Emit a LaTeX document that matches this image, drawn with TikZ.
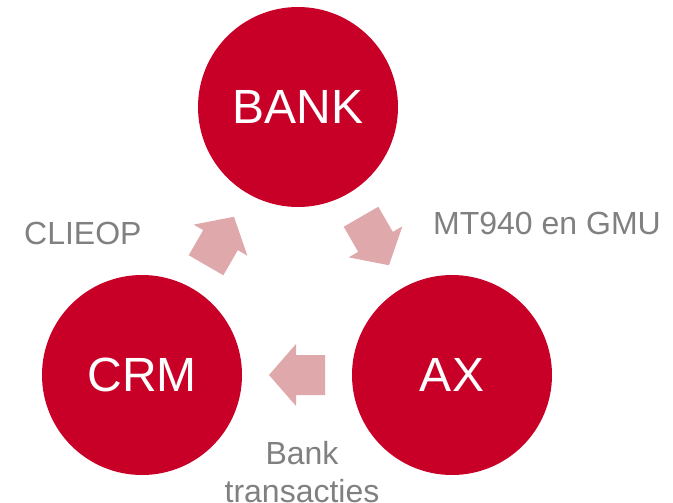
\documentclass[tikz,border=0pt]{standalone}
\usepackage{fontspec}
\setmainfont{Liberation Sans}
\usetikzlibrary{calc}
\definecolor{cred}{RGB}{200,0,40}
\definecolor{cpink}{RGB}{223,169,172}
\definecolor{cgray}{RGB}{128,128,128}
\begin{document}
\begin{tikzpicture}[x=1pt,y=-1pt,
 circ/.style={circle, fill=cred, minimum size=200pt, inner sep=0pt, text=white, font=\fontsize{48}{56}\selectfont},
 lbl/.style={text=cgray, font=\fontsize{32}{38}\selectfont, inner sep=0pt},
 blockarrow/.pic={\fill[cpink] (-28,-20) -- (1,-20) -- (1,-31) -- (28,0) -- (1,31) -- (1,20) -- (-28,20) -- cycle;}]
\useasboundingbox (0,0) rectangle (673,503);
\node[circ] (bank) at (298,107) {BANK};
\node[circ] (crm) at (142,375) {CRM};
\node[circ] (ax) at (452,375) {AX};
\pic[rotate=60] at ($(crm)!0.5!(bank)$) {blockarrow};
\pic[rotate=-60] at ($(bank)!0.5!(ax)$) {blockarrow};
\pic[rotate=180] at ($(ax)!0.5!(crm)$) {blockarrow};
\node[lbl, anchor=base west] (clieop) at (24,244) {CLIEOP};
\node[lbl, anchor=base west] (mt) at (433,234) {MT940 en GMU};
\node[lbl, anchor=north, align=center] (bt) at (302,441) {Bank\\transacties};
\end{tikzpicture}
\end{document}
